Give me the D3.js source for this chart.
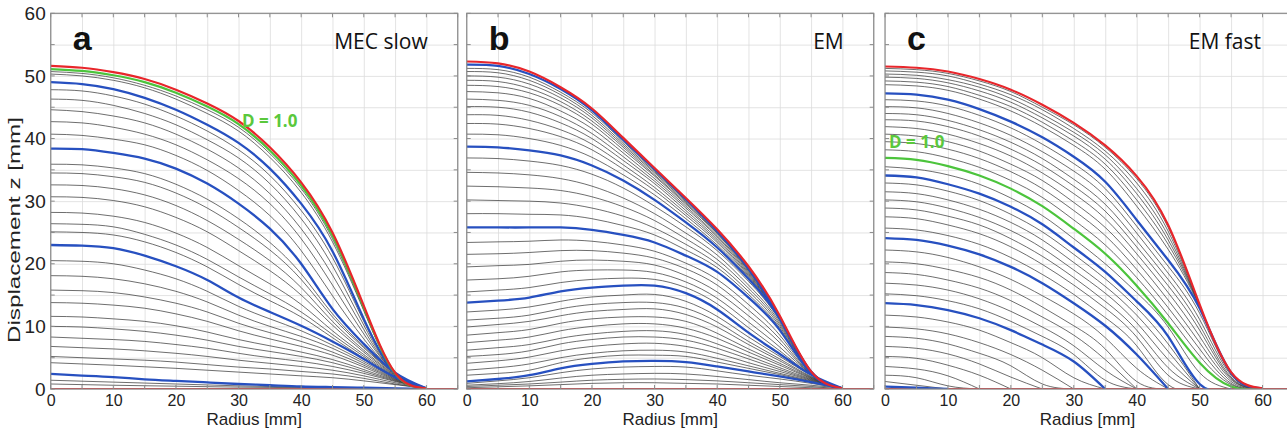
<!DOCTYPE html>
<html>
<head>
<meta charset="utf-8">
<script src="https://cdn.jsdelivr.net/npm/d3@7"></script>
<style>
  body { margin: 0; background: #fff; }
  svg { display: block; }
</style>
</head>
<body>
<svg id="chart" width="1287" height="434"></svg>
<script>
// radius samples (mm) shared by every profile array
const radii = [0, 5, 10, 15, 20, 25, 30, 35, 40, 45, 50, 55, 60];
const radiiFlat = [0, 65];
const flatProfile = [0, 0];

const xTicks = [0, 10, 20, 30, 40, 50, 60];
const yTicks = [0, 10, 20, 30, 40, 50, 60];
const gridSteps = [0, 5, 10, 15, 20, 25, 30, 35, 40, 45, 50, 55, 60, 65];

const panelLetters = ['a', 'b', 'c'];
const panelTitles = ['MEC slow', 'EM', 'EM fast'];

// ---- a: MEC slow ----
const slowRed = [51.6, 51.3, 50.6, 49.5, 47.8, 45.6, 42.8, 38.6, 33.0, 25.0, 13.3, 2.6, 0.1];
const slowGreen = [51.1, 50.8, 50.1, 49.0, 47.3, 45.1, 42.3, 38.1, 32.5, 24.5, 13.0, 2.5, 0.1];
const slowBlue = [
  [49.0, 48.7, 47.9, 46.5, 44.6, 42.2, 39.3, 35.2, 29.6, 22.0, 11.2, 2.5, 0.1],
  [38.4, 38.3, 37.7, 36.8, 35.2, 32.8, 29.6, 25.6, 20.0, 12.8, 7.2, 2.6, 0.1],
  [23.0, 22.9, 22.5, 21.3, 19.6, 17.4, 14.6, 12.3, 10.1, 7.6, 4.8, 1.9, 0.1],
  [2.4, 2.15, 1.9, 1.55, 1.3, 1.05, 0.8, 0.6, 0.4, 0.3, 0.2, 0.1, 0]
];
const slowGray = [
  [50.7, 50.4, 49.7, 48.5, 46.8, 44.6, 41.8, 37.6, 32.0, 24.0, 12.7, 2.5, 0.1],
  [50.3, 50.0, 49.3, 48.1, 46.3, 44.0, 41.2, 37.0, 31.4, 23.5, 12.5, 2.5, 0.1],
  [47.8, 47.6, 46.8, 45.5, 43.6, 41.2, 38.2, 34.1, 28.5, 21.0, 10.8, 2.5, 0.1],
  [46.3, 46.1, 45.3, 44.0, 42.2, 39.8, 36.9, 32.8, 27.2, 19.7, 10.2, 2.5, 0.1],
  [44.6, 44.3, 43.6, 42.5, 40.7, 38.3, 35.3, 31.2, 25.6, 18.2, 9.5, 2.5, 0.1],
  [42.7, 42.5, 41.8, 40.7, 39.0, 36.6, 33.6, 29.6, 24.0, 16.6, 8.8, 2.6, 0.1],
  [40.7, 40.5, 39.9, 39.0, 37.3, 34.9, 31.7, 27.7, 22.1, 14.9, 8.0, 2.6, 0.1],
  [35.9, 35.8, 35.3, 34.4, 32.7, 30.3, 27.2, 23.4, 18.4, 12.0, 6.8, 2.5, 0.1],
  [34.5, 34.4, 33.9, 33.0, 31.3, 28.9, 25.8, 22.2, 17.5, 11.5, 6.6, 2.4, 0.1],
  [32.6, 32.5, 32.0, 31.0, 29.3, 26.9, 23.9, 20.5, 16.2, 10.8, 6.2, 2.3, 0.1],
  [30.7, 30.6, 30.1, 29.1, 27.4, 25.1, 22.1, 18.9, 15.0, 10.2, 5.9, 2.2, 0.1],
  [28.2, 28.1, 27.6, 26.6, 24.9, 22.6, 19.7, 16.8, 13.5, 9.3, 5.5, 2.1, 0.1],
  [26.4, 26.3, 25.9, 24.7, 23.0, 20.7, 17.9, 15.2, 12.3, 8.7, 5.2, 2.0, 0.1],
  [25.1, 25.0, 24.6, 23.5, 21.8, 19.5, 16.7, 14.1, 11.5, 8.2, 4.9, 1.9, 0.1],
  [20.5, 20.4, 20.0, 19.0, 17.6, 15.6, 13.2, 11.2, 9.3, 7.0, 4.4, 1.8, 0.1],
  [18.1, 18.0, 17.6, 16.8, 15.6, 13.9, 11.8, 10.0, 8.4, 6.5, 4.1, 1.7, 0.1],
  [15.8, 15.7, 15.4, 14.7, 13.7, 12.3, 10.5, 9.0, 7.6, 5.9, 3.8, 1.6, 0.1],
  [13.8, 13.7, 13.4, 12.9, 12.0, 10.8, 9.3, 8.0, 6.8, 5.4, 3.5, 1.5, 0.1],
  [11.6, 11.5, 11.2, 10.8, 10.1, 9.1, 7.9, 6.9, 5.9, 4.7, 3.1, 1.4, 0.1],
  [10.0, 9.9, 9.6, 9.2, 8.6, 7.8, 6.8, 6.0, 5.2, 4.2, 2.8, 1.3, 0.1],
  [8.3, 8.1, 7.9, 7.6, 7.1, 6.5, 5.7, 5.0, 4.4, 3.6, 2.5, 1.2, 0.1],
  [6.8, 6.6, 6.4, 6.1, 5.7, 5.2, 4.6, 4.1, 3.6, 3.0, 2.1, 1.0, 0.1],
  [5.2, 5.0, 4.8, 4.6, 4.3, 3.9, 3.5, 3.2, 2.8, 2.4, 1.7, 0.8, 0.1],
  [4.2, 4.0, 3.8, 3.55, 3.3, 3.0, 2.7, 2.4, 2.1, 1.8, 1.3, 0.7, 0.1],
  [1.4, 1.25, 1.1, 0.95, 0.8, 0.65, 0.5, 0.4, 0.3, 0.2, 0.15, 0.1, 0],
  [0.8, 0.7, 0.6, 0.52, 0.45, 0.37, 0.3, 0.25, 0.2, 0.15, 0.1, 0.05, 0]
];

// ---- b: EM ----
const emRed = [52.3, 52.0, 50.7, 48.2, 44.8, 40.1, 35.3, 30.5, 25.5, 19.6, 11.7, 2.8, 0.1];
const emBlue = [
  [51.8, 51.6, 50.3, 47.9, 44.5, 39.8, 35.1, 30.3, 25.2, 19.2, 11.3, 2.8, 0.1],
  [38.7, 38.6, 38.1, 37.3, 35.7, 33.3, 30.2, 26.6, 22.6, 17.6, 11.2, 2.7, 0.1],
  [25.8, 25.8, 25.8, 25.8, 25.4, 24.6, 23.4, 21.3, 18.7, 14.6, 9.4, 2.5, 0.1],
  [13.8, 14.1, 14.6, 15.6, 16.2, 16.5, 16.5, 15.3, 12.7, 9.0, 5.6, 2.3, 0.1],
  [1.2, 1.6, 2.2, 3.3, 4.0, 4.4, 4.5, 4.3, 3.6, 2.8, 2.0, 1.1, 0.1]
];
const emGray = [
  [51.2, 51.0, 49.8, 47.4, 44.1, 39.5, 34.9, 30.2, 25.3, 19.4, 11.7, 2.8, 0.1],
  [50.7, 50.5, 49.3, 47.0, 43.7, 39.2, 34.7, 30.1, 25.2, 19.4, 11.6, 2.8, 0.1],
  [50.0, 49.8, 48.7, 46.5, 43.3, 38.9, 34.5, 29.9, 25.1, 19.3, 11.6, 2.8, 0.1],
  [49.3, 49.1, 48.0, 45.9, 42.8, 38.6, 34.2, 29.7, 24.9, 19.2, 11.6, 2.8, 0.1],
  [48.5, 48.3, 47.3, 45.3, 42.3, 38.2, 34.0, 29.5, 24.8, 19.0, 11.6, 2.8, 0.1],
  [47.5, 47.3, 46.4, 44.4, 41.6, 37.7, 33.6, 29.2, 24.5, 18.9, 11.5, 2.8, 0.1],
  [46.3, 46.1, 45.3, 43.5, 40.8, 37.1, 33.2, 28.9, 24.3, 18.7, 11.5, 2.8, 0.1],
  [45.1, 45.0, 44.2, 42.5, 40.0, 36.5, 32.8, 28.5, 24.0, 18.5, 11.4, 2.8, 0.1],
  [43.8, 43.7, 42.9, 41.4, 39.1, 35.8, 32.2, 28.1, 23.7, 18.3, 11.4, 2.7, 0.1],
  [42.4, 42.3, 41.6, 40.3, 38.2, 35.1, 31.7, 27.7, 23.4, 18.1, 11.3, 2.7, 0.1],
  [40.7, 40.6, 40.0, 38.9, 37.0, 34.2, 31.0, 27.2, 23.0, 17.9, 11.3, 2.7, 0.1],
  [36.9, 36.8, 36.4, 35.7, 34.3, 32.1, 29.2, 25.9, 22.1, 17.2, 10.9, 2.7, 0.1],
  [34.6, 34.5, 34.2, 33.6, 32.4, 30.5, 28.0, 24.9, 21.4, 16.6, 10.6, 2.6, 0.1],
  [32.4, 32.3, 32.1, 31.7, 30.7, 29.1, 26.9, 24.0, 20.7, 16.1, 10.3, 2.6, 0.1],
  [30.2, 30.1, 30.0, 29.7, 28.9, 27.6, 25.7, 23.1, 20.0, 15.6, 10.0, 2.6, 0.1],
  [28.0, 28.0, 27.9, 27.8, 27.2, 26.1, 24.6, 22.2, 19.4, 15.1, 9.7, 2.5, 0.1],
  [23.4, 23.5, 23.6, 23.8, 23.6, 23.0, 22.0, 20.1, 17.5, 13.5, 8.6, 2.5, 0.1],
  [21.5, 21.6, 21.8, 22.1, 22.1, 21.7, 20.9, 19.2, 16.6, 12.6, 8.0, 2.4, 0.1],
  [19.5, 19.7, 19.9, 20.4, 20.6, 20.4, 19.8, 18.1, 15.5, 11.7, 7.4, 2.4, 0.1],
  [17.4, 17.6, 18.0, 18.7, 19.0, 19.0, 18.6, 17.1, 14.5, 10.7, 6.7, 2.4, 0.1],
  [15.5, 15.8, 16.2, 17.0, 17.5, 17.7, 17.5, 16.2, 13.6, 9.8, 6.1, 2.3, 0.1],
  [12.3, 12.6, 13.1, 14.0, 14.7, 15.0, 15.1, 14.0, 11.6, 8.3, 5.2, 2.2, 0.1],
  [11.0, 11.3, 11.8, 12.8, 13.5, 13.8, 13.8, 12.9, 10.7, 7.6, 4.8, 2.0, 0.1],
  [9.9, 10.3, 10.8, 11.7, 12.4, 12.7, 12.8, 11.9, 9.9, 7.1, 4.5, 1.9, 0.1],
  [8.6, 9.0, 9.5, 10.5, 11.2, 11.5, 11.5, 10.8, 8.9, 6.4, 4.1, 1.8, 0.1],
  [7.4, 7.8, 8.3, 9.3, 10.0, 10.4, 10.4, 9.7, 8.1, 5.9, 3.8, 1.7, 0.1],
  [6.2, 6.6, 7.1, 8.1, 8.8, 9.2, 9.3, 8.7, 7.2, 5.3, 3.4, 1.6, 0.1],
  [5.2, 5.5, 6.1, 7.2, 7.9, 8.3, 8.3, 7.8, 6.5, 4.8, 3.1, 1.5, 0.1],
  [4.1, 4.5, 5.1, 6.1, 6.8, 7.2, 7.3, 6.8, 5.7, 4.2, 2.8, 1.4, 0.1],
  [3.0, 3.4, 4.0, 5.0, 5.7, 6.1, 6.2, 5.9, 4.9, 3.7, 2.5, 1.3, 0.1],
  [2.2, 2.5, 3.0, 4.2, 5.0, 5.4, 5.4, 5.2, 4.3, 3.3, 2.3, 1.2, 0.1],
  [0.9, 1.3, 1.8, 2.6, 3.2, 3.5, 3.6, 3.5, 2.9, 2.2, 1.6, 0.9, 0.1],
  [0.6, 0.85, 1.2, 1.75, 2.2, 2.4, 2.5, 2.4, 2.0, 1.5, 1.0, 0.6, 0.1],
  [0.4, 0.6, 0.8, 1.1, 1.4, 1.55, 1.6, 1.5, 1.3, 1.0, 0.7, 0.4, 0],
  [0.2, 0.35, 0.5, 0.7, 0.9, 1.0, 1.0, 0.9, 0.8, 0.6, 0.4, 0.2, 0]
];

// ---- c: EM fast ----
const fastRed = [51.5, 51.3, 50.7, 49.5, 47.8, 45.4, 42.5, 38.9, 34.0, 26.2, 13.5, 2.7, 0.1];
const fastGreen = [36.9, 36.6, 35.6, 34.1, 32.0, 29.2, 25.6, 21.6, 16.5, 10.5, 4.2, 0.4, 0];
const fastBlue = [
  [47.2, 47.0, 46.2, 44.7, 42.7, 40.2, 37.1, 33.1, 27.0, 20.6, 12.9, 2.6, 0.1],
  [34.1, 33.8, 32.7, 31.2, 29.1, 26.3, 22.6, 18.7, 14.0, 8.4, 0.8, 0],
  [24.1, 23.8, 22.9, 21.5, 19.5, 16.9, 13.7, 10.1, 5.5, 0],
  [13.7, 13.4, 12.6, 11.3, 9.4, 7.1, 4.4, 0],
  [0.4, 0.2, 0]
];
const fastGray = [
  [51.2, 51.0, 50.4, 49.2, 47.5, 45.0, 42.2, 38.6, 33.6, 25.8, 13.5, 2.7, 0.1],
  [50.8, 50.6, 50.0, 48.7, 47.0, 44.6, 41.6, 38.0, 32.9, 25.2, 13.4, 2.7, 0.1],
  [50.3, 50.1, 49.4, 48.2, 46.4, 43.9, 41.0, 37.4, 32.0, 24.5, 13.3, 2.7, 0.1],
  [49.8, 49.6, 48.9, 47.6, 45.8, 43.3, 40.4, 36.7, 31.2, 23.8, 13.3, 2.7, 0.1],
  [49.2, 49.0, 48.3, 46.9, 45.1, 42.6, 39.6, 35.9, 30.2, 23.1, 13.2, 2.6, 0.1],
  [48.6, 48.4, 47.7, 46.3, 44.4, 41.9, 38.9, 35.1, 29.2, 22.3, 13.1, 2.6, 0.1],
  [46.2, 46.0, 45.2, 43.7, 41.7, 39.1, 36.0, 32.0, 26.0, 19.6, 12.1, 2.4, 0.1],
  [45.1, 44.9, 44.0, 42.5, 40.5, 37.9, 34.8, 30.8, 24.9, 18.5, 11.1, 2.2, 0.1],
  [44.0, 43.8, 42.9, 41.4, 39.4, 36.8, 33.5, 29.5, 23.7, 17.5, 10.2, 1.9, 0.1],
  [43.0, 42.8, 41.9, 40.4, 38.3, 35.7, 32.4, 28.4, 22.7, 16.5, 9.4, 1.7, 0.1],
  [41.9, 41.6, 40.7, 39.2, 37.2, 34.5, 31.2, 27.2, 21.6, 15.4, 8.4, 1.5, 0],
  [40.7, 40.4, 39.5, 38.0, 35.9, 33.3, 29.8, 25.8, 20.4, 14.2, 7.4, 1.2, 0],
  [39.5, 39.2, 38.3, 36.8, 34.7, 32.0, 28.5, 24.5, 19.1, 13.0, 6.4, 0.9, 0],
  [38.2, 37.9, 36.9, 35.4, 33.3, 30.6, 27.0, 23.0, 17.8, 11.8, 5.3, 0.7, 0],
  [35.5, 35.1, 34.2, 32.7, 30.5, 27.7, 24.0, 20.0, 15.4, 9.9, 2.6, 0],
  [32.9, 32.6, 31.6, 30.1, 27.9, 25.1, 21.5, 17.6, 13.0, 7.2, 0],
  [31.5, 31.2, 30.2, 28.7, 26.6, 23.8, 20.2, 16.4, 11.8, 6.0, 0],
  [30.2, 29.9, 28.9, 27.4, 25.3, 22.5, 19.0, 15.3, 10.6, 4.7, 0],
  [28.9, 28.6, 27.6, 26.2, 24.0, 21.2, 17.8, 14.0, 9.4, 3.4, 0],
  [27.5, 27.2, 26.2, 24.8, 22.7, 19.9, 16.6, 12.9, 8.3, 2.2, 0],
  [25.7, 25.4, 24.5, 23.1, 21.0, 18.3, 15.1, 11.4, 6.9, 0.7, 0],
  [22.2, 21.9, 21.0, 19.5, 17.5, 14.9, 12.0, 8.2, 3.3, 0],
  [20.3, 20.0, 19.1, 17.8, 15.8, 13.1, 10.1, 6.4, 1.2, 0],
  [18.6, 18.3, 17.4, 16.1, 14.1, 11.5, 8.6, 4.7, 0],
  [16.9, 16.6, 15.8, 14.4, 12.4, 9.9, 6.9, 3.0, 0],
  [15.2, 14.9, 14.1, 12.8, 10.8, 8.4, 5.5, 1.4, 0],
  [11.8, 11.5, 10.7, 9.4, 7.4, 5.0, 1.8, 0],
  [9.9, 9.6, 8.8, 7.4, 5.5, 3.0, 0],
  [8.4, 8.1, 7.2, 5.7, 3.7, 0.8, 0],
  [6.8, 6.5, 5.6, 4.0, 1.9, 0],
  [5.2, 4.9, 3.8, 2.2, 0],
  [3.6, 3.2, 2.1, 0],
  [2.2, 1.8, 0.5, 0],
  [1.2, 0.6, 0]
];

const panels = [
  { left: 50.7, width: 407, gray: slowGray, blue: slowBlue, green: slowGreen, red: slowRed,
    dLabel: { x: 242, y: 127 } },
  { left: 466.7, width: 407, gray: emGray, blue: emBlue, green: null, red: emRed,
    dLabel: null },
  { left: 885, width: 409, gray: fastGray, blue: fastBlue, green: fastGreen, red: fastRed,
    dLabel: { x: 889, y: 148 } }
];

const svg = d3.select('#chart');
const plotTop = 13.3, plotBottom = 389;
const y = d3.scaleLinear().domain([0, 60]).range([plotBottom, plotTop]);
const plotH = plotBottom - plotTop;

panels.forEach((p, i) => {
  const x = d3.scaleLinear().domain([0, 65]).range([p.left, p.left + p.width]);
  const g = svg.append('g');

  // grid
  g.append('g')
    .attr('transform', `translate(0,${plotBottom})`)
    .call(d3.axisBottom(x).tickValues(gridSteps).tickSize(-plotH).tickFormat(''))
    .call(a => a.select('.domain').remove())
    .call(a => a.selectAll('line').attr('stroke', '#dcdcdc').attr('stroke-width', 0.8));
  g.append('g')
    .attr('transform', `translate(${p.left},0)`)
    .call(d3.axisLeft(y).tickValues(gridSteps.filter(v => v <= 60)).tickSize(-p.width).tickFormat(''))
    .call(a => a.select('.domain').remove())
    .call(a => a.selectAll('line').attr('stroke', '#dcdcdc').attr('stroke-width', 0.8));

  const line = rs => d3.line()
    .x((d, k) => x(rs[k]))
    .y(d => y(d))
    .curve(d3.curveNatural);

  const clipId = 'clip' + i;
  svg.append('clipPath').attr('id', clipId)
    .append('rect').attr('x', p.left).attr('y', plotTop).attr('width', p.width).attr('height', plotH);
  const plot = g.append('g').attr('clip-path', `url(#${clipId})`);

  plot.selectAll('path.gray')
    .data(p.gray)
    .join('path')
    .attr('class', 'gray')
    .attr('d', line(radii))
    .attr('fill', 'none')
    .attr('stroke', '#333')
    .attr('stroke-opacity', 0.75)
    .attr('stroke-width', 0.95);

  // initial flat profile
  plot.append('path')
    .datum(flatProfile)
    .attr('d', line(radiiFlat))
    .attr('fill', 'none')
    .attr('stroke', '#e8262b')
    .attr('stroke-width', 2);

  plot.selectAll('path.blue')
    .data(p.blue)
    .join('path')
    .attr('class', 'blue')
    .attr('d', line(radii))
    .attr('fill', 'none')
    .attr('stroke', '#2750c0')
    .attr('stroke-width', 2.3);

  if (p.green) {
    plot.append('path')
      .datum(p.green)
      .attr('d', line(radii))
      .attr('fill', 'none')
      .attr('stroke', '#4cc43c')
      .attr('stroke-width', 2.2);
  }

  plot.append('path')
    .datum(p.red)
    .attr('d', line(radii))
    .attr('fill', 'none')
    .attr('stroke', '#e8262b')
    .attr('stroke-width', 2.2);

  // frame + inward ticks
  g.append('rect')
    .attr('x', p.left).attr('y', plotTop)
    .attr('width', p.width).attr('height', plotH)
    .attr('fill', 'none').attr('stroke', '#8c8c8c').attr('stroke-width', 1.2);
  const tickLen = 4;
  g.append('g').selectAll('line')
    .data(gridSteps)
    .join('line')
    .attr('x1', d => x(d)).attr('x2', d => x(d))
    .attr('y1', plotTop).attr('y2', plotTop + tickLen)
    .attr('stroke', '#8c8c8c');
  g.append('g').selectAll('line')
    .data(gridSteps)
    .join('line')
    .attr('x1', d => x(d)).attr('x2', d => x(d))
    .attr('y1', plotBottom).attr('y2', plotBottom - tickLen)
    .attr('stroke', '#8c8c8c');
  g.append('g').selectAll('line')
    .data(gridSteps.filter(v => v <= 60))
    .join('line')
    .attr('x1', p.left).attr('x2', p.left + tickLen)
    .attr('y1', d => y(d)).attr('y2', d => y(d))
    .attr('stroke', '#8c8c8c');
  g.append('g').selectAll('line')
    .data(gridSteps.filter(v => v <= 60))
    .join('line')
    .attr('x1', p.left + p.width).attr('x2', p.left + p.width - tickLen)
    .attr('y1', d => y(d)).attr('y2', d => y(d))
    .attr('stroke', '#8c8c8c');

  // x tick labels
  g.append('g')
    .attr('transform', `translate(0,${plotBottom + 2})`)
    .call(d3.axisBottom(x).tickValues(xTicks).tickSize(0).tickPadding(4))
    .call(a => a.select('.domain').remove())
    .call(a => a.selectAll('text')
      .attr('fill', '#222')
      .style('font-family', '"Liberation Sans", Arial, sans-serif')
      .style('font-size', '16px'));

  g.append('text')
    .attr('x', p.left + p.width / 2 - (i === 2 ? 2 : 0))
    .attr('y', 425)
    .attr('text-anchor', 'middle')
    .attr('fill', '#222')
    .style('font-family', '"Liberation Sans", Arial, sans-serif')
    .style('font-size', '17px')
    .text('Radius [mm]');

  g.append('text')
    .attr('x', p.left + 22)
    .attr('y', 50)
    .attr('fill', '#111')
    .style('font-family', '"Liberation Sans", Arial, sans-serif')
    .style('font-weight', 'bold')
    .style('font-size', '34px')
    .text(panelLetters[i]);

  g.append('text')
    .attr('x', p.left + p.width - 30 - (i === 2 ? 3 : 0))
    .attr('y', 49)
    .attr('text-anchor', 'end')
    .attr('fill', '#111')
    .style('font-family', '"Open Sans", sans-serif')
    .style('font-size', '21px')
    .text(panelTitles[i]);

  if (p.dLabel) {
    g.append('text')
      .attr('x', p.dLabel.x)
      .attr('y', p.dLabel.y)
      .attr('fill', '#5ac83c')
      .style('font-family', '"Open Sans", sans-serif')
      .style('font-weight', 'bold')
      .style('font-size', '17px')
      .text('D = 1.0');
  }

  if (i === 0) {
    g.append('g')
      .attr('transform', `translate(${p.left - 3},0)`)
      .call(d3.axisLeft(y).tickValues(yTicks).tickSize(0).tickPadding(2))
      .call(a => a.select('.domain').remove())
      .call(a => a.selectAll('text')
        .attr('fill', '#222')
        .style('font-family', '"Liberation Sans", Arial, sans-serif')
        .style('font-size', '19px'));

    g.append('text')
      .attr('transform', 'translate(20,230) rotate(-90)')
      .attr('text-anchor', 'middle')
      .attr('fill', '#222')
      .attr('textLength', 226)
      .attr('lengthAdjust', 'spacingAndGlyphs')
      .style('font-family', '"Liberation Sans", Arial, sans-serif')
      .style('font-size', '16px')
      .text('Displacement z [mm]');
  }
});
</script>
</body>
</html>
